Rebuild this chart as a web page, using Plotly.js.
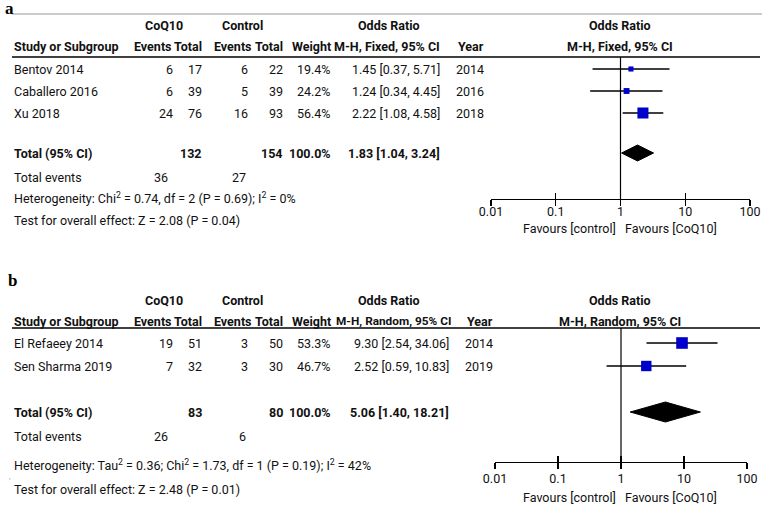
<!DOCTYPE html>
<html>
<head>
<meta charset="utf-8">
<script src="https://cdn.plot.ly/plotly-3.0.1.min.js"></script>
<style>
  html, body { margin: 0; padding: 0; background: #fff; }
  #plot { width: 762px; height: 509px; }
</style>
</head>
<body>
<div id="plot"></div>
<script>
// panel a - fixed effect
var studiesA = ["Bentov 2014", "Caballero 2016", "Xu 2018"];
var coqEventsA = [6, 6, 24];
var coqTotalA = [17, 39, 76];
var ctlEventsA = [6, 5, 16];
var ctlTotalA = [22, 39, 93];
var weightA = [19.4, 24.2, 56.4];
var orA = [1.45, 1.24, 2.22];
var loA = [0.37, 0.34, 1.08];
var hiA = [5.71, 4.45, 4.58];
var yearA = [2014, 2016, 2018];
var totalA = [1.83, 1.04, 3.24];          // OR, lower, upper
var totalNA = [132, 154];                 // CoQ10, control
var totalEventsA = [36, 27];
var hetA = "Heterogeneity: Chi<sup>2</sup> = 0.74, df = 2 (P = 0.69); I<sup>2</sup> = 0%";
var testA = "Test for overall effect: Z = 2.08 (P = 0.04)";

// panel b - random effects
var studiesB = ["El Refaeey 2014", "Sen Sharma 2019"];
var coqEventsB = [19, 7];
var coqTotalB = [51, 32];
var ctlEventsB = [3, 3];
var ctlTotalB = [50, 30];
var weightB = [53.3, 46.7];
var orB = [9.30, 2.52];
var loB = [2.54, 0.59];
var hiB = [34.06, 10.83];
var yearB = [2014, 2019];
var totalB = [5.06, 1.40, 18.21];
var totalNB = [83, 80];
var totalEventsB = [26, 6];
var hetB = "Heterogeneity: Tau<sup>2</sup> = 0.36; Chi<sup>2</sup> = 1.73, df = 1 (P = 0.19); I<sup>2</sup> = 42%";
var testB = "Test for overall effect: Z = 2.48 (P = 0.01)";

var tickVals = [0.01, 0.1, 1, 10, 100];
var tickText = ["0.01", "0.1", "1", "10", "100"];

var W = 762, H = 509;
var FONT = "Roboto, Liberation Sans, sans-serif";
var FS = 12.5;
function px(x) { return x / W; }

var traces = [];
var annotations = [];
var shapes = [];

function txt(s, x, y, anchor, bold, size, color) {
  annotations.push({
    text: bold ? "<b>" + s + "</b>" : s,
    xref: "paper", yref: "y", x: px(x), y: y,
    xanchor: anchor, yanchor: "middle", showarrow: false,
    font: {family: FONT, size: size || FS, color: color || "#111"}
  });
}
function ci(o, l, h) {
  return o.toFixed(2) + " [" + l.toFixed(2) + ", " + h.toFixed(2) + "]";
}

function panel(p) {
  annotations.push({text: "<b>" + p.label + "</b>", xref: "paper", yref: "y", x: px(p.labelX), y: p.labelY,
    xanchor: "left", yanchor: "middle", showarrow: false,
    font: {family: "Liberation Serif, serif", size: 17, color: "#000"}});

  // headers
  var h1 = p.headY - 21, h2 = p.headY;
  txt("CoQ10", 164, h1, "center", true);
  txt("Control", 242, h1, "center", true);
  txt("Odds Ratio", 389, h1, "center", true);
  txt("Odds Ratio", 620, h1, "center", true);
  txt("Study or Subgroup", 12, h2, "left", true);
  txt("Events", 174, h2, "right", true);
  txt("Total", 204, h2, "right", true);
  txt("Events", 254, h2, "right", true);
  txt("Total", 285, h2, "right", true);
  txt("Weight", 333, h2, "right", true);
  txt(p.method, p.orRight + p.methodShift, h2, "right", true, p.methodSize);
  txt("Year", p.orRight + 14, h2, "left", true);
  txt(p.method, 620, h2, "center", true);

  shapes.push({type: "line", xref: "paper", yref: "y", x0: px(12), x1: px(760),
    y0: p.lineY, y1: p.lineY, line: {color: "#000", width: 1.5}});

  // study rows
  p.studies.forEach(function (s, i) {
    var y = p.rows[i];
    txt(s, 12, y, "left");
    txt(String(p.ce[i]), 175, y, "right");
    txt(String(p.ct[i]), 204, y, "right");
    txt(String(p.ke[i]), 250, y, "right");
    txt(String(p.kt[i]), 285, y, "right");
    txt(p.w[i].toFixed(1) + "%", 333, y, "right");
    txt(ci(p.or[i], p.lo[i], p.hi[i]), p.orRight, y, "right");
    txt(String(p.year[i]), p.orRight + 12, y, "left");
    traces.push({x: [p.lo[i], p.hi[i]], y: [y, y], xaxis: p.xa, yaxis: "y",
      mode: "lines", line: {color: "#000", width: 1.3}, hoverinfo: "skip", showlegend: false});
  });
  traces.push({x: p.or, y: p.rows, xaxis: p.xa, yaxis: "y", mode: "markers",
    marker: {symbol: "square", color: "#0000cc", opacity: 1, line: {width: 0},
      size: p.w.map(function (w) { return 2 + w * p.sq; })},
    showlegend: false, hoverinfo: "x"});

  // total row and diamond
  var ty = p.totalY, t = p.total;
  txt("Total (95% CI)", 12, ty, "left", true);
  txt(String(p.totalN[0]), 204, ty, "right", true);
  txt(String(p.totalN[1]), 285, ty, "right", true);
  txt("100.0%", 333, ty, "right", true);
  txt(ci(t[0], t[1], t[2]), p.orRight, ty, "right", true);
  traces.push({x: [t[1], t[0], t[2], t[0], t[1]],
    y: [ty, ty - p.dh, ty, ty + p.dh, ty], xaxis: p.xa, yaxis: "y",
    mode: "lines", fill: "toself", fillcolor: "#000", line: {color: "#000", width: 1},
    showlegend: false, hoverinfo: "skip"});

  txt("Total events", 12, p.footY[0], "left");
  txt(String(p.totalEvents[0]), 170, p.footY[0], "right");
  txt(String(p.totalEvents[1]), 248, p.footY[0], "right");
  txt(p.het, 12, p.footY[1], "left");
  txt(p.test, 12, p.footY[2], "left");

  // null line
  shapes.push({type: "line", xref: p.xa, yref: "y", x0: 1, x1: 1,
    y0: p.lineY, y1: p.axisY, line: {color: "#000", width: 1.2}});

  annotations.push({text: "Favours [control]", xref: p.xa, yref: "y", x: 0, y: p.favY,
    xanchor: "right", yanchor: "middle", xshift: -3, showarrow: false,
    font: {family: FONT, size: FS, color: "#111"}});
  annotations.push({text: "Favours [CoQ10]", xref: p.xa, yref: "y", x: 0, y: p.favY,
    xanchor: "left", yanchor: "middle", xshift: 2, showarrow: false,
    font: {family: FONT, size: FS, color: "#111"}});
}

panel({label: "a", labelX: 3, labelY: 8, headY: 46, lineY: 57, orRight: 442,
  method: "M-H, Fixed, 95% CI", methodShift: 0, methodSize: FS,
  studies: studiesA, rows: [69, 91, 113],
  ce: coqEventsA, ct: coqTotalA, ke: ctlEventsA, kt: ctlTotalA, w: weightA,
  or: orA, lo: loA, hi: hiA, year: yearA, total: totalA, totalN: totalNA,
  totalEvents: totalEventsA, het: hetA, test: testA, totalY: 153,
  footY: [177, 198, 220], axisY: 199, favY: 228, xa: "x", sq: 0.16, dh: 8});

panel({label: "b", labelX: 6, labelY: 280, headY: 321, lineY: 328, orRight: 451,
  method: "M-H, Random, 95% CI", methodShift: 2, methodSize: 11.8,
  studies: studiesB, rows: [343, 366],
  ce: coqEventsB, ct: coqTotalB, ke: ctlEventsB, kt: ctlTotalB, w: weightB,
  or: orB, lo: loB, hi: hiB, year: yearB, total: totalB, totalN: totalNB,
  totalEvents: totalEventsB, het: hetB, test: testB, totalY: 412,
  footY: [436, 465, 489], axisY: 462, favY: 497, xa: "x2", sq: 0.18, dh: 10});

// faint top rule of panel a
shapes.push({type: "line", xref: "paper", yref: "y", x0: px(12), x1: px(762),
  y0: 14, y1: 14, line: {color: "#bbb", width: 1.5}});
// stray tick mark left of panel b footer
txt("'", 7, 480, "left", false, 8, "#888");

function logAxis(d0, d1, yPos, inside, standoff) {
  var a = {type: "log", range: [-2, 2], domain: [px(d0), px(d1)],
    anchor: "free", position: 1 - yPos / H, showgrid: false, zeroline: false,
    tickmode: "array", tickvals: tickVals, ticktext: tickText,
    ticks: inside ? "inside" : "outside", ticklen: 6, tickwidth: 1.2, tickcolor: "#000",
    fixedrange: true};
  if (inside) {
    a.showticklabels = false;
    a.showline = false;
  } else {
    a.showline = true;
    a.linecolor = "#000";
    a.linewidth = 1.2;
    a.ticklabelstandoff = standoff;
    a.tickfont = {family: FONT, size: FS, color: "#111"};
  }
  return a;
}

var layout = {
  width: W, height: H,
  margin: {l: 0, r: 0, t: 0, b: 0},
  paper_bgcolor: "#fff", plot_bgcolor: "rgba(0,0,0,0)",
  showlegend: false,
  xaxis: logAxis(491, 750, 199, false, -5),
  xaxis2: logAxis(495, 747, 462, false, -1),
  xaxis3: Object.assign(logAxis(491, 750, 199, true), {overlaying: "x"}),
  xaxis4: Object.assign(logAxis(495, 747, 462, true), {overlaying: "x2"}),
  yaxis: {domain: [0, 1], range: [H, 0], visible: false, fixedrange: true},
  annotations: annotations,
  shapes: shapes
};

// dummy traces so the overlay tick axes get drawn
traces.push({x: [1], y: [-50], xaxis: "x3", yaxis: "y", mode: "markers", showlegend: false, hoverinfo: "skip"});
traces.push({x: [1], y: [-50], xaxis: "x4", yaxis: "y", mode: "markers", showlegend: false, hoverinfo: "skip"});

Plotly.newPlot("plot", traces, layout, {displayModeBar: false, staticPlot: true});
</script>
</body>
</html>
